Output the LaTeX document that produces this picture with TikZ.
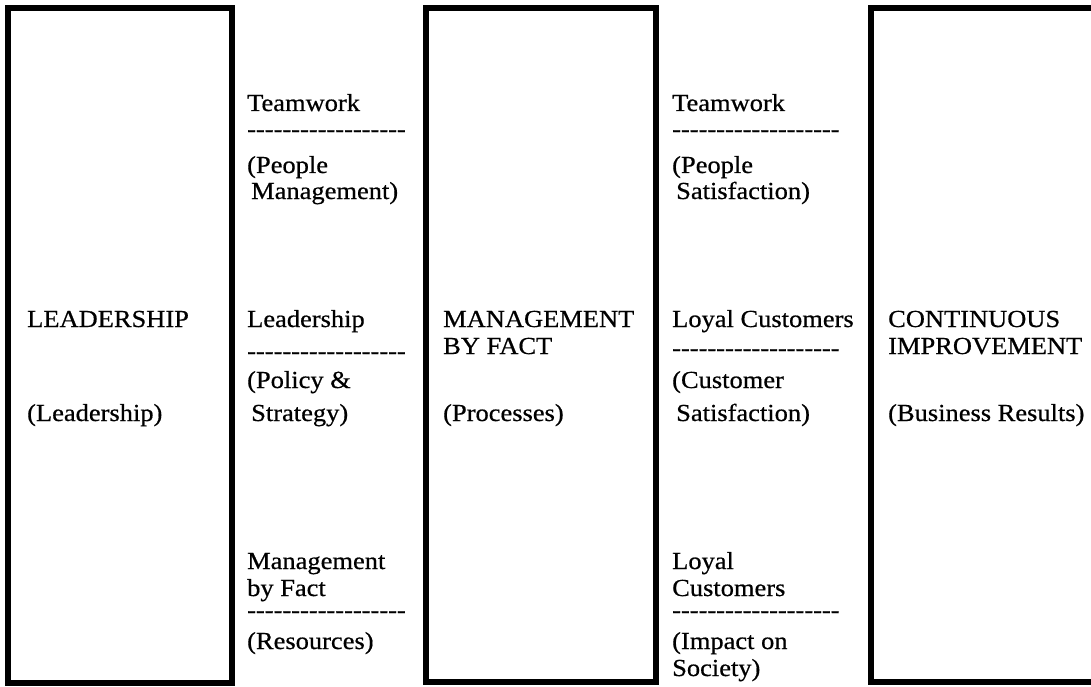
\documentclass[tikz,border=0pt]{standalone}
\usepackage{fontspec}
\setmainfont{Liberation Serif}[FakeStretch=1.08,FakeBold=0.6,Ligatures=TeXOff]
\newcommand\dashrow[1]{\count255=0 \loop -\kern0pt\advance\count255 by 1 \ifnum\count255<#1\repeat}
\begin{document}
\begin{tikzpicture}[x=1pt,y=-1pt,
  colbox/.style={draw=black, line width=6pt},
  txt/.style={anchor=base west, inner sep=0pt, font=\fontsize{24.5}{27}\selectfont},
  rule/.style={txt, text height=8pt, text depth=0pt}]
\useasboundingbox (0,0) rectangle (1091,687);
\begin{scope}
\clip (0,0) rectangle (1091,687);
\draw[colbox] (8,8) rectangle (232,683);
\draw[colbox] (426,8) rectangle (656,682);
\draw[colbox] (871,8) rectangle (1110,682);
\end{scope}
% column 1
\node[txt] (c1a) at (27,327) {LEADERSHIP};
\node[txt] (c1b) at (27,421) {(Leadership)};
% column 2
\node[txt] (c2a) at (247,111) {Teamwork};
\node[rule] (c2b) at (247,137) {\dashrow{18}};
\node[txt] (c2c) at (247,173) {(People};
\node[txt] (c2d) at (251,199) {Management)};
\node[txt] (c2e) at (247,327) {Leadership};
\node[rule] (c2f) at (247,359) {\dashrow{18}};
\node[txt] (c2g) at (247,388) {(Policy \&};
\node[txt] (c2h) at (251,421) {Strategy)};
\node[txt] (c2i) at (247,569) {Management};
\node[txt] (c2j) at (247,596) {by Fact};
\node[rule] (c2k) at (247,618) {\dashrow{18}};
\node[txt] (c2l) at (247,649) {(Resources)};
% column 3
\node[txt] (c3a) at (443,327) {MANAGEMENT};
\node[txt] (c3b) at (443,354) {BY FACT};
\node[txt] (c3c) at (443,421) {(Processes)};
% column 4
\node[txt] (c4a) at (672,111) {Teamwork};
\node[rule] (c4b) at (672,137) {\dashrow{19}};
\node[txt] (c4c) at (672,173) {(People};
\node[txt] (c4d) at (676,199) {Satisfaction)};
\node[txt] (c4e) at (672,327) {Loyal Customers};
\node[rule] (c4f) at (672,356) {\dashrow{19}};
\node[txt] (c4g) at (672,388) {(Customer};
\node[txt] (c4h) at (676,421) {Satisfaction)};
\node[txt] (c4i) at (672,569) {Loyal};
\node[txt] (c4j) at (672,596) {Customers};
\node[rule] (c4k) at (672,618) {\dashrow{19}};
\node[txt] (c4l) at (672,649) {(Impact on};
\node[txt] (c4m) at (672,676) {Society)};
% column 5
\node[txt] (c5a) at (888,327) {CONTINUOUS};
\node[txt] (c5b) at (888,354) {IMPROVEMENT};
\node[txt] (c5c) at (888,421) {(Business Results)};
\end{tikzpicture}
\end{document}
